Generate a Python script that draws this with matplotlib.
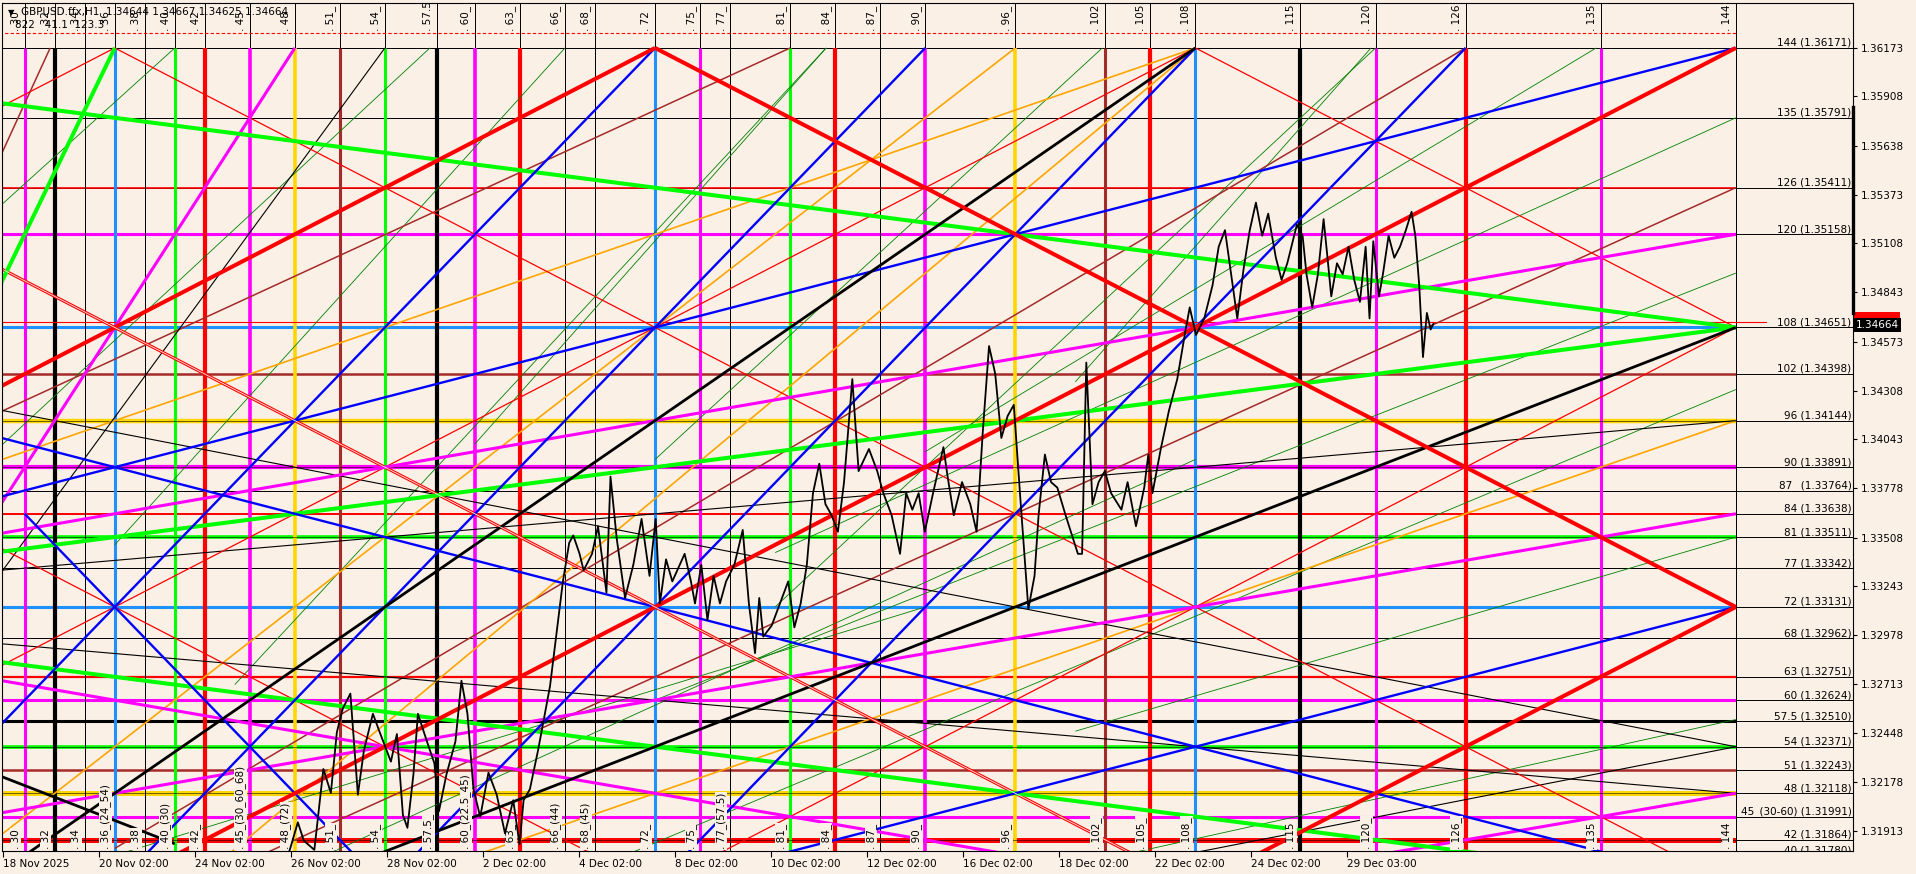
"""GBPUSD H1 with a Gann square-of-144 grid (levels, time lines, angle lines)."""
import numpy as np
import matplotlib
matplotlib.use("Agg")
import matplotlib.pyplot as plt
import matplotlib.transforms as mtransforms

BG = "#FAF0E6"

# ---- Gann price levels (right-hand labels) ----
LEVEL_N = [144, 135, 126, 120, 108, 102, 96, 90, 87, 84, 81, 77, 72, 68,
           63, 60, 57.5, 54, 51, 48, 45, 42, 40]
LEVEL_PRICE = [1.36171, 1.35791, 1.35411, 1.35158, 1.34651, 1.34398, 1.34144,
               1.33891, 1.33764, 1.33638, 1.33511, 1.33342, 1.33131, 1.32962,
               1.32751, 1.32624, 1.32510, 1.32371, 1.32243, 1.32118, 1.31991,
               1.31864, 1.31780]
LEVEL_TAG = ["144", "135", "126", "120", "108", "102", "96", "90", "87_", "84",
             "81", "77", "72", "68", "63", "60", "57.5", "54", "51", "48",
             "45_(30-60)", "42", "40"]
LEVEL_COLOR = ["black", "black", "red", "magenta", "dodgerblue", "brown", "gold",
               "magenta", "black", "red", "lime", "black", "dodgerblue", "black",
               "red", "magenta", "black", "lime", "brown", "gold", "magenta",
               "red", "black"]
LEVEL_W = [0.7, 0.7, 1.2, 2.2, 2.2, 1.8, 3.2, 3.0, 0.7, 1.4, 2.6, 0.7, 2.2, 0.7,
           1.6, 2.2, 2.2, 2.6, 1.8, 3.6, 2.2, 3.6, 0.7]

# ---- Gann time lines ----
TIME_N = [30, 32, 34, 36, 38, 40, 42, 45, 48, 51, 54, 57.5, 60, 63, 66, 68,
          72, 75, 77, 81, 84, 87, 90, 96, 102, 105, 108, 115, 120, 126, 135, 144]
TIME_COLOR = ["magenta", "black", "black", "dodgerblue", "black", "lime", "red",
              "magenta", "gold", "brown", "lime", "black", "magenta", "red",
              "black", "black", "dodgerblue", "magenta", "black", "lime", "red",
              "black", "magenta", "gold", "brown", "red", "dodgerblue", "black",
              "magenta", "red", "magenta", "black"]
TIME_W = [2.2, 3.0, 0.7, 2.2, 0.7, 2.2, 3.0, 2.6, 2.6, 2.2, 2.2, 3.0, 2.6, 3.0,
          0.7, 0.7, 2.2, 2.2, 0.7, 2.2, 3.0, 0.7, 2.6, 2.6, 2.2, 3.0, 2.2, 3.0,
          2.2, 3.0, 2.2, 0.7]
TOP_TAG = ["30", "32", "34", "36", "38", "40", "42", "45", "48", "51_", "54_",
           "57.5", "60_", "63_", "66_", "68_", "72", "75_", "77_", "81_", "84_",
           "87_", "90_", "96_", "102", "105", "108", "115", "120", "126", "135", "144"]
BOTTOM_TAG = ["30", "32", "34", "36_(24_54)", "38", "40_(30)", "42_",
              "45_(30_60_68)", "48_(72)", "51_", "54_", "57.5_", "60_(22.5_45)",
              "63_", "66_(44)", "68_(45)", "72_", "75_", "77_(57.5)", "81_", "84_",
              "87_", "90_", "96_", "102_", "105_", "108_", "115", "120_", "126_",
              "135", "144"]

# ---- angle lines, (time n, level n) -> (time n, level n) ----
RED_THICK = [(0, 72, 72, 144), (72, 144, 144, 72), (34, 34, 144, 144),
             (108, 36, 144, 72)]
RED_THIN = [(20, 128, 36, 144), (36, 144, 144, 36), (20, 56, 108, 144),
            (20, 88, 68, 40), (108, 144, 144, 108), (72, 36, 144, 108)]
RED_DOUBLE = [(20, 124, 104, 40)]
BLUE = [(28, 56, 72, 144), (36, 36, 90, 144), (54, 36, 108, 144),
        (72, 36, 126, 144), (20, 82, 144, 144), (20, 98, 144, 36),
        (72, 36, 144, 72), (30, 84, 54, 36)]
LIME = [(28, 112, 36, 144), (20, 139, 144, 108), (20, 77, 144, 108),
        (20, 67, 144, 36)]
MAGENTA = [(24, 72, 48, 144), (20, 78.67, 144, 120), (20, 42.67, 144, 84),
           (120, 40, 144, 48), (20, 65.33, 96, 40)]
BLACK_THICK = [(27, 36, 108, 144), (50, 37.5, 144, 108), (24, 53.5, 40, 41.5)]
BLACK_THIN = [(26, 70, 54, 144), (20, 100.5, 144, 54), (20, 68.67, 144, 48),
              (20, 75.33, 144, 96), (107, 40, 144, 54)]
ORANGE = [(20, 85.33, 108, 144), (26, 39, 96, 144), (60, 40, 144, 96),
          (43.5, 40, 108, 144)]
BROWN = [(26, 95, 81, 144), (40, 35, 144, 126), (36, 40.9, 126, 144),
         (26, 120, 31.7, 144)]
GREEN_THIN = [(24, 116, 40, 144), (28, 92, 57, 144), (36, 80, 66, 144),
              (44, 62, 83.4, 144), (60, 93, 83.4, 144), (72, 91, 101.8, 144),
              (80, 72, 120, 144), (100, 101, 119.7, 144), (90, 92, 134.7, 144),
              (80, 79, 144, 135), (72, 60, 144, 115), (100, 56, 144, 81),
              (103, 40, 144, 57.5), (50, 40, 108, 91), (70, 40, 144, 100),
              (36, 40, 90, 72)]

# ---- price (H1 close path) ----
PRICE_N = [46.8, 47.7, 48.2, 48.6, 49.3, 49.9, 50.4, 50.8, 51.2, 51.7, 52.2, 52.6,
           53.2, 53.7, 54.4, 54.8, 55.2, 55.5, 55.9, 56.2, 56.8, 57.3, 57.6, 58.1,
           58.7, 59.1, 59.5, 59.9, 60.35, 60.9, 61.45, 62.0, 62.55, 62.97, 63.24,
           63.66, 64.2, 65.0, 65.45, 65.86, 66.28, 66.55, 66.97, 67.24, 67.8, 68.2,
           68.76, 69.03, 69.45, 70.0, 70.55, 71.1, 71.63, 72.04, 72.32, 72.73,
           73.15, 73.97, 74.39, 74.66, 75.08, 75.49, 75.9, 76.32, 76.73, 77.28,
           77.84, 78.25, 78.66, 78.94, 79.21, 79.77, 80.32, 80.87, 81.28, 81.7,
           82.11, 82.52, 82.94, 83.35, 83.76, 84.18, 84.59, 85.14, 85.56, 86.25,
           86.8, 87.21, 87.76, 88.32, 88.73, 89.14, 89.56, 89.97, 90.52, 91.21,
           91.49, 91.9, 92.45, 93.0, 93.42, 93.83, 94.25, 94.66, 95.07, 95.49,
           95.9, 96.31, 96.87, 97.28, 97.55, 97.97, 98.38, 98.8, 99.35, 100.17,
           100.45, 100.73, 101.14, 101.55, 101.97, 102.38, 103.07, 103.48, 104.04,
           104.59, 104.86, 105.14, 105.69, 106.24, 106.79, 107.35, 107.62, 108.04,
           108.59, 109.14, 109.55, 109.97, 110.38, 110.79, 111.21, 111.62, 112.03,
           112.45, 112.85, 113.1, 113.36, 113.74, 114.12, 114.76, 115.14, 115.4,
           115.78, 116.16, 116.54, 116.8, 117.05, 117.43, 117.81, 118.2, 118.58,
           118.96, 119.34, 119.6, 119.85, 120.23, 120.49, 120.87, 121.25, 121.63,
           122.02, 122.4, 122.65, 122.91, 123.16, 123.42, 123.67, 123.85]
PRICE = [1.3160, 1.3182, 1.3196, 1.3186, 1.3181, 1.3225, 1.3212, 1.3245, 1.3258,
         1.3266, 1.3211, 1.3235, 1.3255, 1.3244, 1.3229, 1.3244, 1.3200, 1.3193,
         1.3222, 1.3255, 1.3240, 1.3228, 1.3202, 1.3222, 1.3240, 1.3273, 1.3255,
         1.3214, 1.3199, 1.3223, 1.3211, 1.3190, 1.3208, 1.3184, 1.3208, 1.3214,
         1.3235, 1.3270, 1.3300, 1.3327, 1.3348, 1.3352, 1.3342, 1.3333, 1.3342,
         1.3357, 1.3321, 1.3384, 1.3350, 1.3318, 1.3336, 1.3361, 1.3330, 1.3361,
         1.3315, 1.3339, 1.3327, 1.3342, 1.3327, 1.3315, 1.3336, 1.3306, 1.3330,
         1.3315, 1.3327, 1.3336, 1.3355, 1.3315, 1.3288, 1.3318, 1.3297, 1.3303,
         1.3315, 1.3327, 1.3302, 1.3315, 1.3336, 1.3375, 1.3391, 1.3369, 1.3363,
         1.3354, 1.3381, 1.3437, 1.3387, 1.3399, 1.3387, 1.3375, 1.3363, 1.3342,
         1.3375, 1.3366, 1.3375, 1.3354, 1.3375, 1.3400, 1.3384, 1.3363, 1.3381,
         1.3369, 1.3354, 1.3408, 1.3455, 1.3440, 1.3405, 1.3417, 1.3423, 1.3375,
         1.3312, 1.3330, 1.3363, 1.3396, 1.3381, 1.3378, 1.3363, 1.3342, 1.3342,
         1.3446, 1.3369, 1.3381, 1.3387, 1.3375, 1.3366, 1.3381, 1.3357, 1.3378,
         1.3396, 1.3375, 1.3399, 1.3420, 1.3437, 1.3464, 1.3476, 1.3461, 1.3470,
         1.3488, 1.3509, 1.3518, 1.3494, 1.3470, 1.3497, 1.3518, 1.3533, 1.3515,
         1.3527, 1.3515, 1.3503, 1.3491, 1.3500, 1.3521, 1.3515, 1.3494, 1.3476,
         1.3494, 1.3524, 1.3503, 1.3482, 1.3500, 1.3494, 1.3509, 1.3491, 1.3479,
         1.3509, 1.3470, 1.3512, 1.3482, 1.3494, 1.3515, 1.3503, 1.3509, 1.3518,
         1.3528, 1.3515, 1.3488, 1.3449, 1.3473, 1.3464, 1.3467]

DATE_N = [28.58, 34.96, 41.35, 47.74, 54.14, 60.53, 66.93, 73.36, 79.75, 86.14,
          92.53, 98.91, 105.3, 111.69, 118.11]
DATE_LABELS = ["18 Nov 2025", "20 Nov 02:00", "24 Nov 02:00", "26 Nov 02:00",
               "28 Nov 02:00", "2 Dec 02:00", "4 Dec 02:00", "8 Dec 02:00",
               "10 Dec 02:00", "12 Dec 02:00", "16 Dec 02:00", "18 Dec 02:00",
               "22 Dec 02:00", "24 Dec 02:00", "29 Dec 03:00"]
AXIS_PRICES = [1.36173, 1.35908, 1.35638, 1.35373, 1.35108, 1.34843, 1.34573,
               1.34308, 1.34043, 1.33778, 1.33508, 1.33243, 1.32978, 1.32713,
               1.32448, 1.32178, 1.31913]

LAST_PRICE = 1.34664
LINE_PRICE = 1.34683
TOP_DASH_PRICE = 1.36253
HEADER = "GBPUSD.ffx,H1  1.34644 1.34667 1.34625 1.34664"
HEADER2 = "822   41.1  123.3"

X_MIN, X_MAX = 28.49, 151.79
Y_MIN, Y_MAX = 1.31804, 1.36417

P40, P144 = LEVEL_PRICE[-1], LEVEL_PRICE[0]
STEP = (P144 - P40) / (144 - 40)


def lv2p(lv):
    return P40 + (lv - 40) * STEP


def draw_segs(ax, segs, color, lw, z=2.0):
    for n1, l1, n2, l2 in segs:
        ax.plot([n1, n2], [lv2p(l1), lv2p(l2)], color=color, lw=lw, zorder=z,
                solid_capstyle="butt")


def main():
    fs = 7.5
    fig = plt.figure(figsize=(19.16, 8.74), dpi=100, facecolor=BG)
    ax = fig.add_axes([2 / 1916, 23 / 874, 1850.7 / 1916, 848.3 / 874])
    ax.set_facecolor(BG)
    ax.set_xlim(X_MIN, X_MAX)
    ax.set_ylim(Y_MIN, Y_MAX)
    for s in ax.spines.values():
        s.set_color("black")
        s.set_linewidth(0.8)
    blend_y = mtransforms.blended_transform_factory(ax.transAxes, ax.transData)

    # horizontal levels: thin black across, coloured part inside the square
    for lv, p, col, w in zip(LEVEL_N, LEVEL_PRICE, LEVEL_COLOR, LEVEL_W):
        ax.axhline(p, color="black", lw=0.7, zorder=1)
        ax.plot([X_MIN - 1, 144], [p, p], color=col, lw=w, zorder=1.2,
                solid_capstyle="butt")
        if w >= 2.5 and col != "dodgerblue":
            ax.plot([X_MIN - 1, 144], [p, p], color="black", lw=0.4, zorder=1.3)

    # vertical time lines
    for n, col, w in zip(TIME_N, TIME_COLOR, TIME_W):
        ax.axvline(n, color="black", lw=0.7, zorder=1)
        ax.plot([n, n], [P144, Y_MIN - 0.01], color=col, lw=w, zorder=1.2,
                solid_capstyle="butt")

    ax.plot([X_MIN - 1, 144], [TOP_DASH_PRICE] * 2, color="red", lw=0.8,
            ls=(0, (3, 2)), zorder=1.5)
    ax.plot([X_MIN - 1, 146], [LINE_PRICE] * 2, color="red", lw=0.8, zorder=1.5)

    # angle lines
    draw_segs(ax, GREEN_THIN, "green", 0.6, 1.8)
    draw_segs(ax, BROWN, "brown", 1.1)
    draw_segs(ax, ORANGE, "orange", 1.2)
    draw_segs(ax, BLACK_THIN, "black", 0.8)
    draw_segs(ax, RED_THIN, "red", 0.9)
    draw_segs(ax, RED_DOUBLE, "red", 2.2)
    draw_segs(ax, RED_DOUBLE, BG, 0.6, 2.05)
    draw_segs(ax, MAGENTA, "magenta", 2.2)
    draw_segs(ax, LIME, "lime", 2.9)
    draw_segs(ax, BLUE, "blue", 1.7)
    draw_segs(ax, BLACK_THICK, "black", 2.0)
    draw_segs(ax, RED_THICK, "red", 2.9)

    # price
    ax.plot(PRICE_N, PRICE, color="black", lw=1.3, zorder=6)

    # time-line labels
    for n, t in zip(TIME_N, TOP_TAG):
        ax.annotate(". " + t, xy=(n, TOP_DASH_PRICE), xytext=(-6.5, 1),
                    textcoords="offset points", rotation=90, ha="center",
                    va="bottom", fontsize=fs, zorder=5, annotation_clip=False)
    for n, t in zip(TIME_N, BOTTOM_TAG):
        ax.annotate(". " + t, xy=(n, 0), xycoords=("data", "axes fraction"),
                    xytext=(-6.5, 1.5), textcoords="offset points", rotation=90,
                    ha="center", va="bottom", fontsize=fs, zorder=5,
                    bbox=dict(facecolor=BG, edgecolor="none", pad=0.6))

    # level labels
    for p, tag in zip(LEVEL_PRICE, LEVEL_TAG):
        ax.text(0.9993, p, f"{tag} ({p:.5f})", transform=blend_y, ha="right",
                va="bottom", fontsize=fs, zorder=7, clip_on=True)

    # header
    ax.text(0.003, 0.9885, "\u25BC", transform=ax.transAxes, fontsize=6,
            va="center", ha="left", zorder=7)
    ax.text(0.0105, 0.9885, HEADER, transform=ax.transAxes, fontsize=fs,
            va="center", ha="left", zorder=7)
    ax.text(0.0068, 0.9735, HEADER2, transform=ax.transAxes, fontsize=fs,
            va="center", ha="left", zorder=7)

    # axes ticks
    ax.yaxis.tick_right()
    ax.set_yticks(AXIS_PRICES)
    ax.set_yticklabels([f"{p:.5f}" for p in AXIS_PRICES])
    ax.tick_params(axis="y", length=3, width=0.8, pad=3, labelsize=fs)
    ax.set_xticks(DATE_N)
    ax.set_xticklabels(DATE_LABELS, ha="left")
    ax.tick_params(axis="x", length=4, width=0.8, pad=1.5, labelsize=fs)

    # price tags on the right axis (red tag of the line sits behind the bid tag)
    ax.text(1.0018, LINE_PRICE + 0.00012, " " * 13, transform=blend_y,
            fontsize=fs, va="center", ha="left", zorder=8,
            bbox=dict(facecolor="red", edgecolor="none", pad=1.6))
    ax.text(1.0018, LAST_PRICE, f"{LAST_PRICE:.5f}", transform=blend_y,
            color="white", fontsize=fs, va="center", ha="left", zorder=9,
            bbox=dict(facecolor="black", edgecolor="none", pad=1.6))
    ax.plot([1, 1], [1.35851, 1.34730], transform=blend_y, color="black",
            lw=2.4, clip_on=False, zorder=8)

    fig.savefig("out.png", dpi=100, facecolor=BG)


if __name__ == "__main__":
    main()
